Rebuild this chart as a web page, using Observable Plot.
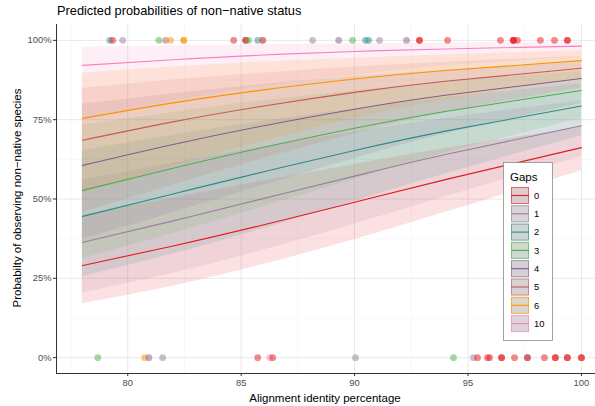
<!DOCTYPE html>
<html><head><meta charset="utf-8">
<script src="https://cdn.jsdelivr.net/npm/d3@7"></script>
<script src="https://cdn.jsdelivr.net/npm/@observablehq/plot@0.6"></script>
<style>
body{margin:0;background:#fff;font-family:"Liberation Sans",Arial,Helvetica,sans-serif;}
#wrap{position:relative;width:595px;height:406px;overflow:hidden;background:#fff;}
#wrap svg{position:absolute;left:0;top:0;}
.t{position:absolute;line-height:1;white-space:nowrap;color:#000;}
#title{left:57px;top:5px;font-size:12.8px;}
#ytitle{left:18px;top:198px;font-size:11.5px;transform:translate(-50%,-50%) rotate(-90deg);}
#xtitle{left:325px;top:392.5px;font-size:11.5px;transform:translateX(-50%);}
</style></head>
<body>
<div id="wrap">
  <div id="chart"></div>
  <div class="t" id="title">Predicted probabilities of non−native status</div>
  <div class="t" id="ytitle">Probabilty of observing non−native species</div>
  <div class="t" id="xtitle">Alignment identity percentage</div>
</div>
<script>
// ---- data ----
const gaps = ["0","1","2","3","4","5","6","10"];
const gapColors = ["#E41A1C","#9B7E9B","#2E8B87","#4DAF4A","#845C8F","#C45A55","#FF9100","#F781BF"];

const xTicks = [80, 85, 90, 95, 100];
const xMinor = [77.5, 82.5, 87.5, 92.5, 97.5];
const yTicks = [0, 0.25, 0.5, 0.75, 1];
const yMinor = [0.125, 0.375, 0.625, 0.875];

const xGrid = [78, 82, 86, 90, 94, 100];
const fit0  = [0.290,0.352,0.419,0.490,0.561,0.662];
const lo0   = [0.170,0.226,0.294,0.372,0.458,0.589];
const hi0   = [0.449,0.503,0.557,0.609,0.659,0.727];
const fit1  = [0.363,0.431,0.502,0.572,0.640,0.731];
const lo1   = [0.204,0.266,0.339,0.421,0.507,0.634];
const hi1   = [0.559,0.613,0.664,0.711,0.754,0.810];
const fit2  = [0.445,0.516,0.586,0.653,0.714,0.793];
const lo2   = [0.255,0.327,0.407,0.493,0.579,0.699];
const hi2   = [0.652,0.700,0.745,0.784,0.819,0.863];
const fit3  = [0.527,0.597,0.663,0.723,0.776,0.842];
const lo3   = [0.312,0.391,0.476,0.562,0.645,0.754];
const hi3   = [0.733,0.773,0.810,0.841,0.869,0.902];
const fit4  = [0.606,0.672,0.731,0.783,0.827,0.880];
const lo4   = [0.373,0.457,0.544,0.628,0.705,0.801];
const hi4   = [0.799,0.832,0.861,0.885,0.906,0.930];
const fit5  = [0.685,0.743,0.793,0.836,0.871,0.912];
const lo5   = [0.457,0.544,0.628,0.705,0.772,0.851];
const hi5   = [0.849,0.875,0.897,0.916,0.931,0.950];
const fit6  = [0.754,0.803,0.844,0.878,0.905,0.936];
const lo6   = [0.517,0.603,0.682,0.753,0.812,0.879];
const hi6   = [0.897,0.916,0.932,0.944,0.955,0.967];
const fit10 = [0.921,0.939,0.954,0.965,0.973,0.982];
const lo10  = [0.751,0.808,0.854,0.890,0.919,0.949];
const hi10  = [0.978,0.983,0.986,0.989,0.992,0.994];

// observed non-native (1) and native (0) records
const obsHighX = [79.21,79.34,79.78,81.37,81.67,81.89,82.47,82.47,84.67,85.20,85.20,85.33,85.73,85.95,85.95,88.15,89.30,89.91,90.48,90.62,91.10,92.29,92.86,92.86,94.10,96.43,97.00,97.00,97.00,97.18,98.19,98.81,99.38,99.38];
const obsHighGap = ["2","0","1","3","5","6","6","6","0","0","0","3","2","5","5","1","4","3","2","2","1","4","0","0","0","0","0","0","0","0","0","0","0","0"];
const obsLowX = [78.68,80.75,80.93,81.54,85.73,86.26,86.39,90.04,94.36,95.24,95.42,95.86,95.95,96.48,96.48,97.05,97.62,97.62,98.37,98.85,98.85,99.38,99.38,100.0,100.0];
const obsLowGap = ["3","6","4","1","0","10","0","1","3","1","0","0","0","0","0","0","4","0","0","0","0","0","0","0","0"];

// ---- build tables ----
const series = [[fit0,lo0,hi0],[fit1,lo1,hi1],[fit2,lo2,hi2],[fit3,lo3,hi3],[fit4,lo4,hi4],[fit5,lo5,hi5],[fit6,lo6,hi6],[fit10,lo10,hi10]];
const pred = [];
gaps.forEach((g, i) => {
  const [f, l, h] = series[i];
  xGrid.forEach((x, j) => pred.push({gap: g, x, fit: f[j], lo: l[j], hi: h[j]}));
});
const obs = [];
obsHighX.forEach((x, i) => obs.push({x, y: 1, gap: obsHighGap[i]}));
obsLowX.forEach((x, i) => obs.push({x, y: 0, gap: obsLowGap[i]}));

const xDom = [76.86, 100.62];
const yDom = [-0.05, 1.05];

const chart = Plot.plot({
  width: 595, height: 406,
  marginTop: 24, marginBottom: 33, marginLeft: 56, marginRight: 0,
  style: {fontFamily: "Liberation Sans, Arial, Helvetica, sans-serif", background: "transparent"},
  x: {domain: xDom},
  y: {domain: yDom},
  color: {domain: gaps, range: gapColors},
  marks: [
    Plot.gridX(xMinor, {stroke: "#f3f3f3", strokeOpacity: 1, strokeWidth: 0.6}),
    Plot.gridY(yMinor, {stroke: "#f3f3f3", strokeOpacity: 1, strokeWidth: 0.6}),
    Plot.gridX(xTicks, {stroke: "#e8e8e8", strokeOpacity: 1, strokeWidth: 1}),
    Plot.gridY(yTicks, {stroke: "#e8e8e8", strokeOpacity: 1, strokeWidth: 1}),
    Plot.areaY(pred, {x: "x", y1: "lo", y2: "hi", fill: "gap", fillOpacity: 0.13, curve: "natural"}),
    Plot.line(pred, {x: "x", y: "fit", stroke: "gap", strokeWidth: 1.1, curve: "natural"}),
    Plot.dot(obs, {x: "x", y: "y", fill: "gap", r: 3.4, fillOpacity: 0.5, stroke: null}),
    Plot.axisX(xTicks, {label: null, tickSize: 3, tickPadding: 3, fontSize: 9.4, fill: "#4d4d4d", stroke: "#333"}),
    Plot.axisY(yTicks, {label: null, tickSize: 3, tickPadding: 2, fontSize: 9.4, fill: "#4d4d4d", stroke: "#333", tickFormat: d => Math.round(d * 100) + "%"}),
    Plot.ruleX([xDom[0]], {stroke: "#333", strokeWidth: 1}),
    Plot.ruleY([yDom[0]], {stroke: "#333", strokeWidth: 1})
  ]
});
document.getElementById("chart").appendChild(chart);

// ---- legend ----
const svg = d3.select(chart);
const lg = svg.append("g").attr("font-family", "Liberation Sans, Arial, Helvetica, sans-serif").attr("text-anchor", "start");
lg.append("rect").attr("x", 503.5).attr("y", 162.5).attr("width", 49).attr("height", 178)
  .attr("fill", "white").attr("stroke", "#8c8c8c").attr("stroke-width", 0.8);
lg.append("text").attr("x", 510).attr("y", 181).attr("font-size", 11.5).attr("fill", "#000").text("Gaps");
gaps.forEach((g, i) => {
  const y0 = 187 + i * 18.3;
  const c = gapColors[i];
  lg.append("rect").attr("x", 511).attr("y", y0).attr("width", 18).attr("height", 17).attr("fill", "#dcdcdc");
  lg.append("rect").attr("x", 511.5).attr("y", y0 + 0.5).attr("width", 17).attr("height", 16)
    .attr("fill", c).attr("fill-opacity", 0.08).attr("stroke", c).attr("stroke-opacity", 0.6).attr("stroke-width", 1);
  lg.append("line").attr("x1", 511).attr("x2", 529).attr("y1", y0 + 8.5).attr("y2", y0 + 8.5)
    .attr("stroke", c).attr("stroke-width", 1.1);
  lg.append("text").attr("x", 534).attr("y", y0 + 8.5).attr("dy", "0.35em").attr("font-size", 9.4).attr("fill", "#000").text(g);
});
</script>
</body></html>
